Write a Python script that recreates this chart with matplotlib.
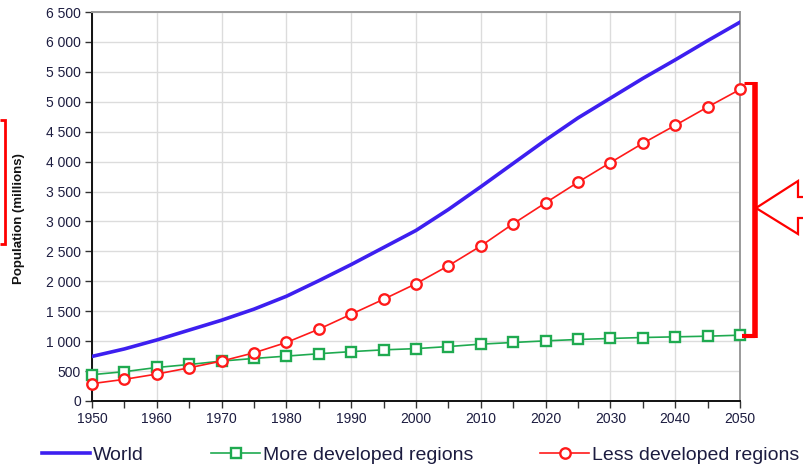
import matplotlib
matplotlib.use("Agg")
import matplotlib.pyplot as plt
from matplotlib.lines import Line2D
from matplotlib.patches import Polygon
from matplotlib.ticker import MultipleLocator, FuncFormatter

plt.rcParams["font.family"] = ["Liberation Sans", "DejaVu Sans"]

years = list(range(1950, 2051, 5))
world = [745, 870, 1020, 1185, 1350, 1535, 1750, 2010, 2280, 2565, 2850,
         3200, 3580, 3970, 4360, 4730, 5060, 5390, 5700, 6020, 6330]
more_dev = [440, 490, 560, 610, 667, 711, 750, 790, 825, 855, 875,
            910, 950, 978, 1005, 1028, 1045, 1061, 1072, 1083, 1100]
less_dev = [290, 362, 450, 555, 667, 805, 978, 1200, 1450, 1700, 1960,
            2260, 2590, 2962, 3311, 3656, 3984, 4306, 4606, 4912, 5206]

W, H = 804, 468
BLUE = "#3d1ff0"
GREEN = "#1faa50"
RED = "#ff1a1a"
TXT = "#1c1c40"

fig = plt.figure(figsize=(W / 100, H / 100), dpi=100)
ax = fig.add_axes([92 / W, 1 - 401 / H, (740 - 92) / W, (401 - 12) / H])

ax.plot(years, world, color=BLUE, lw=2.6, label="World", zorder=3)
ax.plot(years, more_dev, color=GREEN, lw=1.2, marker="s", ms=7, mfc="white",
        mec=GREEN, mew=1.7, label="More developed regions", zorder=4, clip_on=False)
ax.plot(years, less_dev, color=RED, lw=1.2, marker="o", ms=7.5, mfc="white",
        mec=RED, mew=1.7, label="Less developed regions", zorder=5, clip_on=False)

ax.set_xlim(1950, 2050)
ax.set_ylim(0, 6500)
ax.xaxis.set_major_locator(MultipleLocator(10))
ax.xaxis.set_minor_locator(MultipleLocator(5))
ax.yaxis.set_major_locator(MultipleLocator(500))
ax.yaxis.set_major_formatter(FuncFormatter(lambda v, p: f"{int(v):,}".replace(",", " ")))
ax.grid(True, which="major", color="#dcdcdc", lw=1.0, zorder=0)
ax.tick_params(axis="both", which="both", direction="out", length=5, width=1,
               color="#333333", labelsize=10, labelcolor=TXT, pad=3)
for s in ("left", "bottom"):
    ax.spines[s].set_color("#111111")
    ax.spines[s].set_linewidth(1.4)
for s in ("top", "right"):
    ax.spines[s].set_color("#9a9a9a")
    ax.spines[s].set_linewidth(1.4)

ax.set_ylabel("Population (millions)", fontsize=9.5, fontweight="bold", color="#111111")
ax.yaxis.set_label_coords(-0.103, 0.468)

fig.legend(loc="center left", bbox_to_anchor=(34 / W, 1 - 455 / H), ncol=3,
           frameon=False, fontsize=14, handlelength=2.5, handletextpad=0.15,
           columnspacing=3.45, labelcolor=TXT, borderaxespad=0)

# red annotations, in pixel coordinates
def fx(x, y):
    return (x / W, 1 - y / H)

def seg(pts, lw):
    xs = [fx(*p)[0] for p in pts]
    ys = [fx(*p)[1] for p in pts]
    fig.add_artist(Line2D(xs, ys, color="#ff0000", lw=lw, solid_capstyle="butt",
                          solid_joinstyle="miter", transform=fig.transFigure))

seg([(0, 120), (5, 120), (5, 244), (0, 244)], 2.0)
seg([(744, 83), (755, 83)], 2.2)
seg([(755, 82), (755, 338)], 4.0)
seg([(742, 336), (755, 336)], 3.0)

arrow = [(756, 208), (798, 181), (798, 197), (810, 197), (810, 218),
         (798, 218), (798, 234)]
fig.add_artist(Polygon([fx(*p) for p in arrow], closed=True, fill=True,
                       facecolor="white", edgecolor="#ff0000", lw=1.6,
                       joinstyle="miter", transform=fig.transFigure))

fig.savefig("out.png", dpi=100, facecolor="white")
